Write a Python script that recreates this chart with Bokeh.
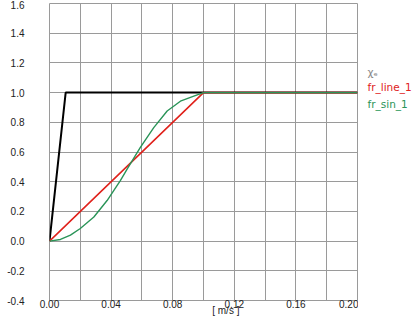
from bokeh.plotting import figure
from bokeh.models import FixedTicker, Range1d, LinearAxis
from bokeh.layouts import row
from bokeh.core.properties import value
from bokeh.embed import file_html
from bokeh.resources import INLINE

# data
xe_x = [0.0, 0.0105, 0.2]
xe_y = [0.0, 1.0, 1.0]
line_x = [0.0, 0.1, 0.2]
line_y = [0.0, 1.0, 1.0]
sin_x = [0.0, 0.0071, 0.0136, 0.020, 0.0288, 0.0374, 0.046, 0.0504, 0.059,
         0.0677, 0.0764, 0.085, 0.0937, 0.1, 0.2]
sin_y = [0.0, 0.011, 0.04, 0.085, 0.162, 0.273, 0.407, 0.484, 0.631,
         0.764, 0.876, 0.942, 0.976, 1.0, 1.0]
x_ticks = [0.0, 0.04, 0.08, 0.12, 0.16, 0.20]
x_grid = [0.0, 0.02, 0.04, 0.06, 0.08, 0.10, 0.12, 0.14, 0.16, 0.18, 0.20]
y_ticks = [-0.4, -0.2, 0.0, 0.2, 0.4, 0.6, 0.8, 1.0, 1.2, 1.4, 1.6]
legend_names = ["\u03c7\u2091", "fr_line_1", "fr_sin_1"]
legend_colors = ["#858585", "#e0221c", "#2a9458"]
legend_y = [1.14, 1.04, 0.92]
x_label = "[ m/s ]"
x_label_pos = 0.1145

FONT = "Liberation Sans"
GRID = "#9a9a9a"

p = figure(width=358, height=318, output_backend="svg", toolbar_location=None,
           title=None,
           x_range=Range1d(0.0, 0.2), y_range=Range1d(-0.4, 1.6),
           min_border_left=49, min_border_right=1, min_border_top=3,
           min_border_bottom=18)
p.outline_line_color = GRID
p.background_fill_color = "white"

p.xaxis.ticker = FixedTicker(ticks=x_ticks)
p.xaxis.major_label_overrides = {t: f"{t:.2f}" for t in x_ticks}
p.yaxis.ticker = FixedTicker(ticks=y_ticks)
p.yaxis.major_label_overrides = {t: f"{t:.1f}" for t in y_ticks}
p.xgrid.ticker = FixedTicker(ticks=x_grid)
p.ygrid.ticker = FixedTicker(ticks=y_ticks)
for g in (p.xgrid, p.ygrid):
    g.grid_line_color = GRID
    g.grid_line_width = 1

# second bottom axis carrying the unit label
unit_axis = LinearAxis(ticker=FixedTicker(ticks=[x_label_pos]),
                       major_label_overrides={x_label_pos: x_label})
p.add_layout(unit_axis, "below")

for ax in p.xaxis + p.yaxis:
    ax.axis_line_color = None
    ax.major_tick_line_color = None
    ax.minor_tick_line_color = None
    ax.major_tick_out = 0
    ax.minor_tick_out = 0
    ax.major_tick_in = 0
    ax.minor_tick_in = 0
    ax.major_label_text_font = FONT
    ax.major_label_text_font_size = "10px"
    ax.major_label_text_color = "#222222"
p.xaxis[0].major_label_standoff = -1
unit_axis.major_label_standoff = -6
p.yaxis.major_label_standoff = 25

p.line(xe_x, xe_y, line_color="black", line_width=2)
p.line(line_x, line_y, line_color="#e0221c", line_width=1.6)
p.line(sin_x, sin_y, line_color="#2a9458", line_width=1.4)

# legend panel on the right
lg = figure(width=61, height=318, output_backend="svg", toolbar_location=None,
            title=None, x_range=Range1d(0, 61), y_range=Range1d(-0.4, 1.6),
            min_border_left=0, min_border_right=0, min_border_top=3,
            min_border_bottom=18)
lg.axis.visible = False
lg.grid.visible = False
lg.outline_line_color = None
lg.text(x=[9, 9, 9], y=legend_y, text=legend_names, text_color=legend_colors,
        text_font=value("DejaVu Sans"), text_font_size="10.5px",
        text_baseline="middle", text_align="left")

layout = row(p, lg, spacing=0)
open("out.html", "w").write(file_html(layout, INLINE))
